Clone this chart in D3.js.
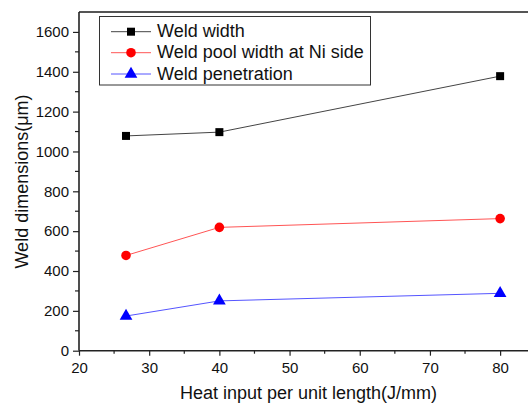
<!DOCTYPE html>
<html>
<head>
<meta charset="utf-8">
<script src="https://cdn.jsdelivr.net/npm/d3@7"></script>
<style>
  html, body { margin: 0; padding: 0; background: #fff; }
  svg { display: block; font-family: "Liberation Sans", Arial, sans-serif; }
</style>
</head>
<body>
<svg id="chart" width="528" height="405"></svg>
<script>
// Heat input per unit length (J/mm)
const heatInput = [26.7, 40, 80];
// Weld dimensions (µm)
const weldWidth = [1078, 1097, 1378];
const poolWidthNi = [478, 619, 663];
const penetration = [174, 250, 288];

const seriesNames = ["Weld width", "Weld pool width at Ni side", "Weld penetration"];
const xTicks = [20, 30, 40, 50, 60, 70, 80];
const yTicks = [0, 200, 400, 600, 800, 1000, 1200, 1400, 1600];

const svg = d3.select("#chart");
const margin = { left: 79, top: 12, bottom: 350.7 };
const plotRight = 531;

const x = d3.scaleLinear().domain([20, 84.4]).range([margin.left, plotRight]);
const y = d3.scaleLinear().domain([0, 1700]).range([margin.bottom, margin.top]);

const axisColor = "#222";

// top frame line
svg.append("line")
  .attr("x1", margin.left).attr("x2", 528)
  .attr("y1", margin.top).attr("y2", margin.top)
  .attr("stroke", "#555").attr("stroke-width", 2);

// Minor ticks
const xMinor = d3.range(25, 85, 10);
const yMinor = d3.range(100, 1700, 200);

const gx = svg.append("g").attr("transform", `translate(0,${margin.bottom})`);
gx.call(d3.axisBottom(x).tickValues(xTicks).tickSize(5).tickPadding(7).tickFormat(d3.format("d")));
gx.selectAll(".minor").data(xMinor).enter().append("line")
  .attr("x1", d => x(d)).attr("x2", d => x(d)).attr("y1", 0).attr("y2", 3)
  .attr("stroke", axisColor).attr("stroke-width", 1.2);

const gy = svg.append("g").attr("transform", `translate(${margin.left},0)`);
gy.call(d3.axisLeft(y).tickValues(yTicks).tickSize(6).tickPadding(4).tickFormat(d3.format("d")));
gy.selectAll(".minor").data(yMinor).enter().append("line")
  .attr("x1", 0).attr("x2", -4).attr("y1", d => y(d)).attr("y2", d => y(d))
  .attr("stroke", axisColor).attr("stroke-width", 1.2);

[gx, gy].forEach(g => {
  g.select(".domain").attr("stroke", axisColor).attr("stroke-width", 1.6);
  g.selectAll(".tick line").attr("stroke", axisColor).attr("stroke-width", 1.2);
  g.selectAll(".tick text").attr("fill", "#111").style("font-size", "15px")
    .style("font-family", "'Liberation Sans', Arial, sans-serif");
});
gy.select(".domain").attr("d", `M0,${margin.bottom}V${margin.top}`);
gx.select(".domain").attr("d", `M${margin.left},0H${plotRight}`);

// Axis titles
svg.append("text")
  .attr("x", 308.5).attr("y", 399)
  .attr("text-anchor", "middle")
  .attr("fill", "#111")
  .style("font-size", "18px")
  .text("Heat input per unit length(J/mm)");

svg.append("text")
  .attr("transform", `translate(28,181.5) rotate(-90)`)
  .attr("text-anchor", "middle")
  .attr("fill", "#111")
  .style("font-size", "18px")
  .text("Weld dimensions(μm)");

// Series
const series = [
  { name: seriesNames[0], values: weldWidth, line: "#444", fill: "#000", shape: d3.symbolSquare, size: 64 },
  { name: seriesNames[1], values: poolWidthNi, line: "#ff5555", fill: "#ff0000", shape: d3.symbolCircle, size: 72 },
  { name: seriesNames[2], values: penetration, line: "#5555ff", fill: "#0000ff", shape: d3.symbolTriangle, size: 70 }
];

const line = d3.line().x(d => x(d[0])).y(d => y(d[1]));

series.forEach(s => {
  const pts = heatInput.map((h, i) => [h, s.values[i]]);
  svg.append("path")
    .attr("d", line(pts))
    .attr("fill", "none")
    .attr("stroke", s.line)
    .attr("stroke-width", 1);
  svg.selectAll(null).data(pts).enter().append("path")
    .attr("d", d3.symbol().type(s.shape).size(s.size))
    .attr("transform", d => `translate(${x(d[0])},${y(d[1])})`)
    .attr("fill", s.fill);
});

// Legend
const legend = svg.append("g");
legend.append("rect")
  .attr("x", 99.5).attr("y", 16.5).attr("width", 271).attr("height", 68.5)
  .attr("fill", "#fff").attr("stroke", "#333").attr("stroke-width", 1);
const rowY = [31.7, 52.7, 74];
series.forEach((s, i) => {
  const ly = rowY[i];
  legend.append("line")
    .attr("x1", 111).attr("x2", 151).attr("y1", ly).attr("y2", ly)
    .attr("stroke", s.line).attr("stroke-width", 1);
  legend.append("path")
    .attr("d", d3.symbol().type(s.shape).size(s.size))
    .attr("transform", `translate(131,${ly})`)
    .attr("fill", s.fill);
  legend.append("text")
    .attr("x", 157).attr("y", ly + 5.5)
    .attr("fill", "#111")
    .style("font-size", "18px")
    .text(s.name);
});
</script>
</body>
</html>
